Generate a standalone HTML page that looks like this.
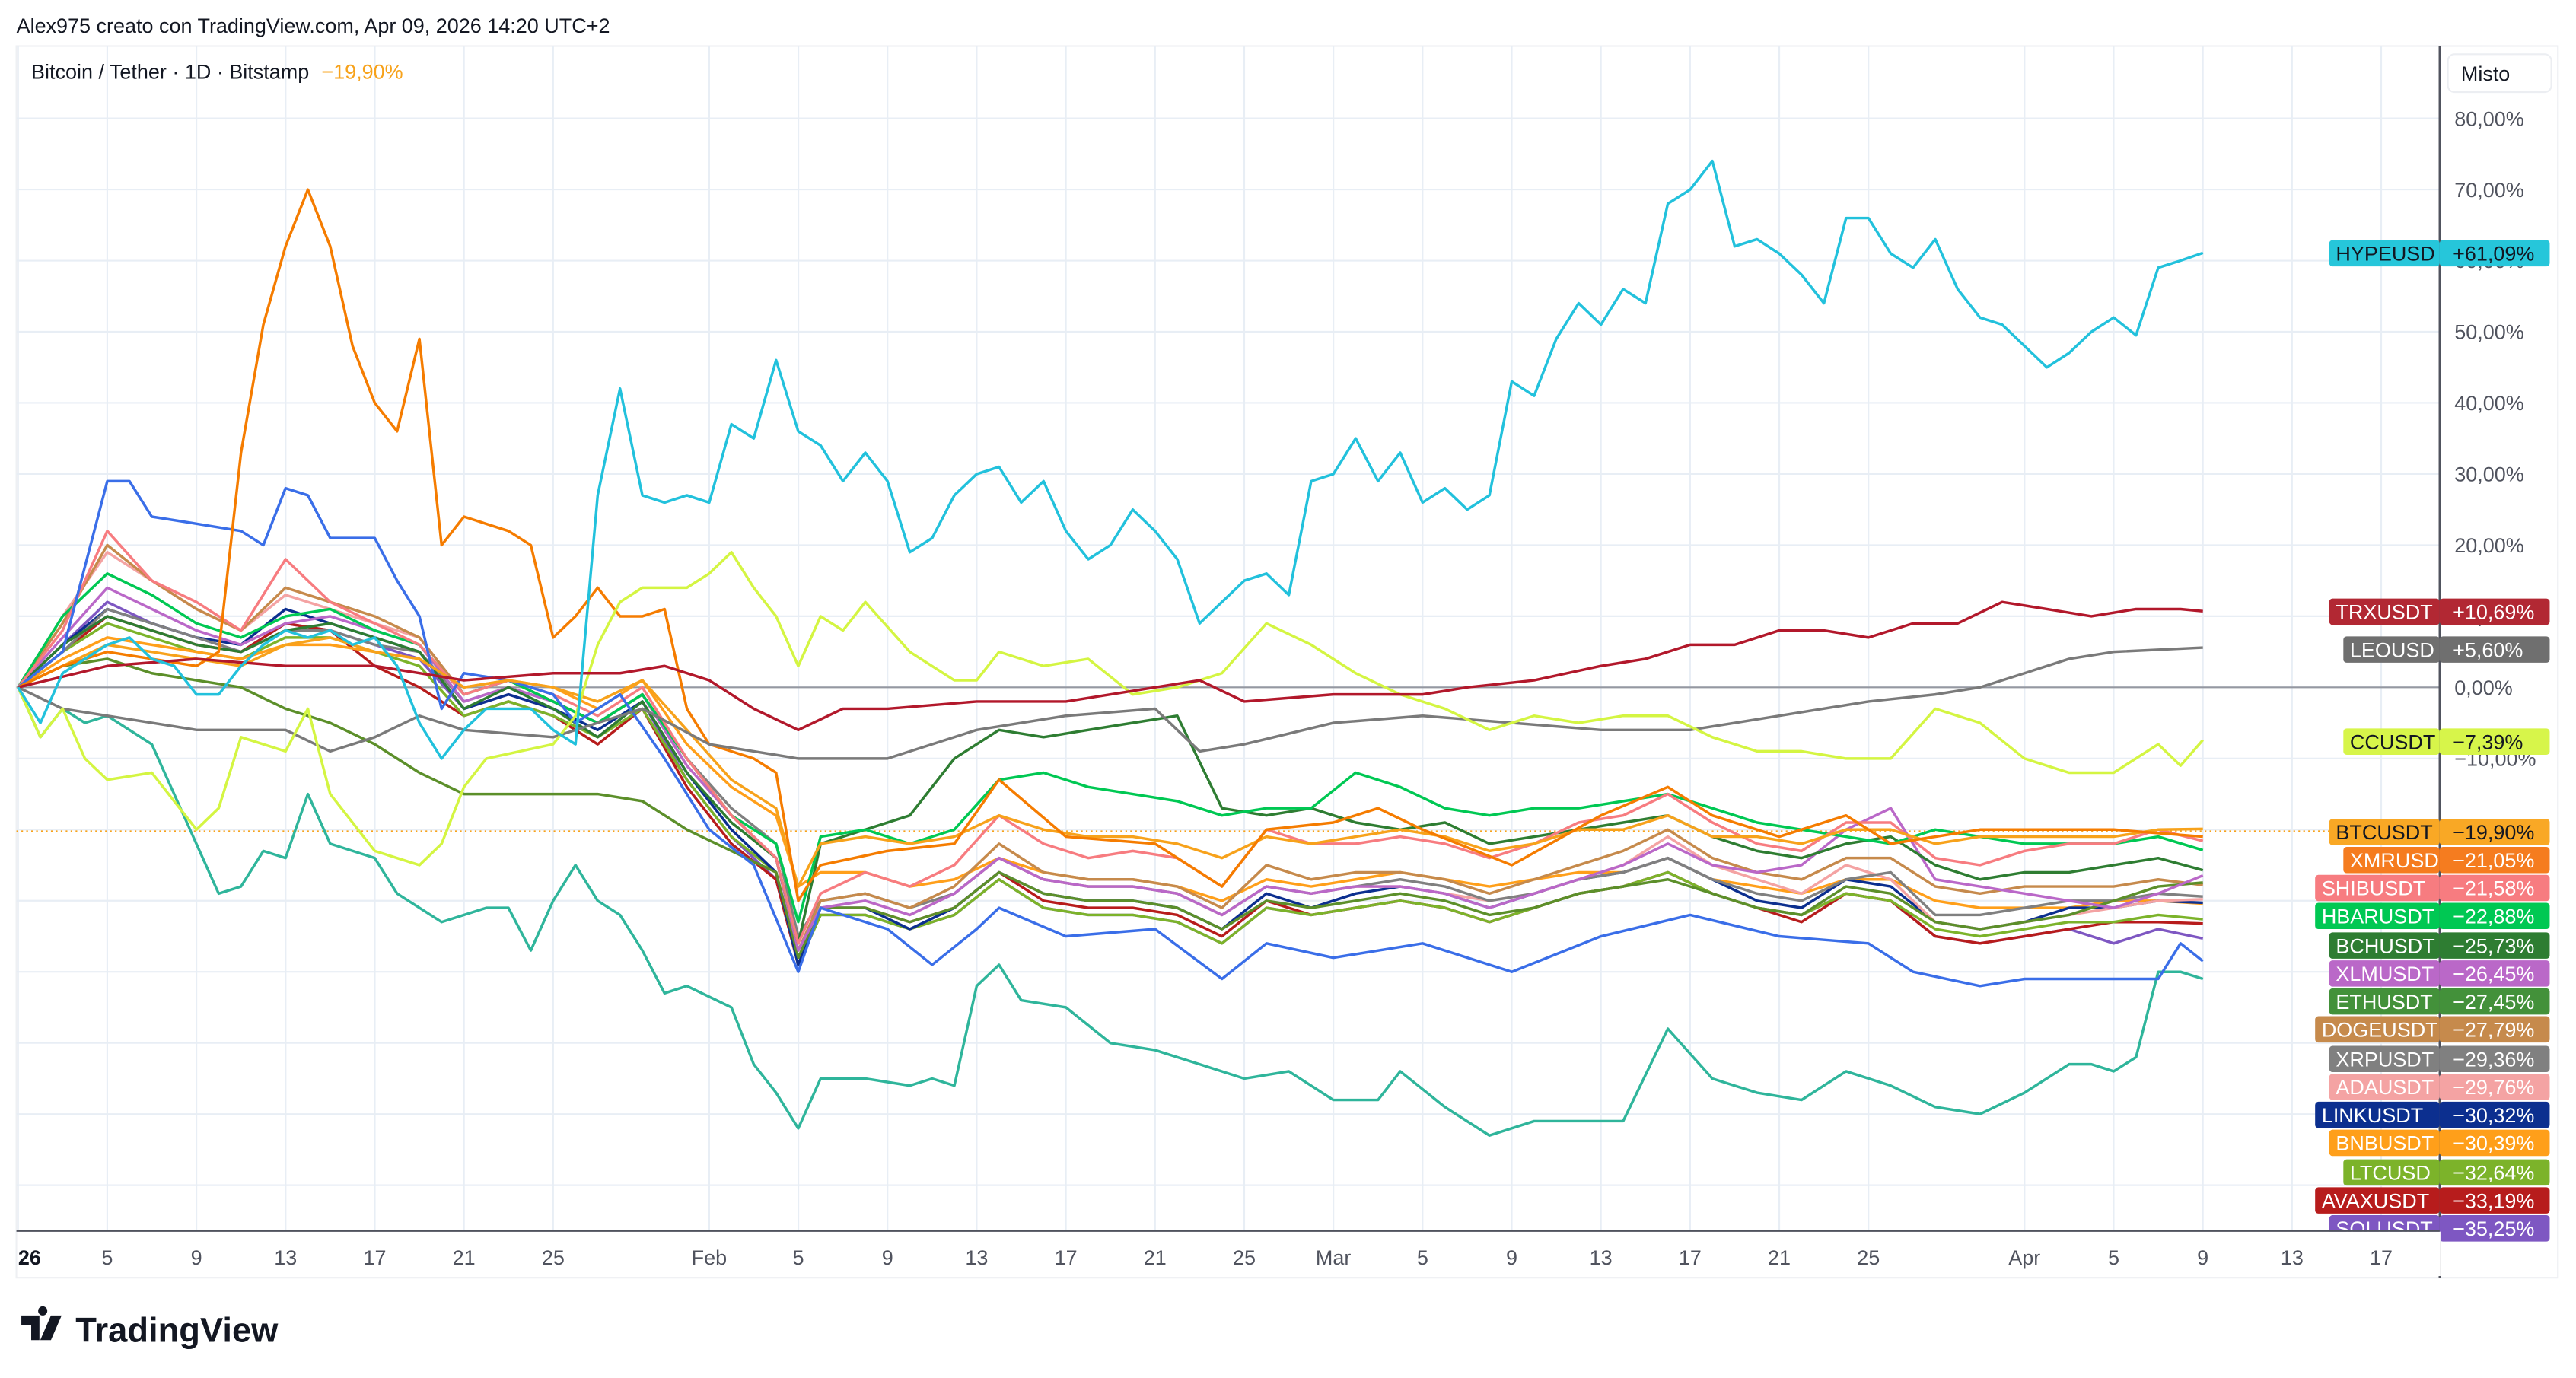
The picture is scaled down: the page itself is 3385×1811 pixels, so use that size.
<!DOCTYPE html>
<html><head><meta charset="utf-8"><style>
html,body{margin:0;padding:0;background:#fff;}
svg{display:block;font-family:"Liberation Sans",sans-serif;}
</style></head><body>
<svg id="chart" width="3385" height="1811" viewBox="0 0 1568 838" preserveAspectRatio="none" xmlns="http://www.w3.org/2000/svg">
<rect x="0" y="0" width="1568" height="838" fill="#fff"/>
<text x="10" y="20" font-size="12.5" fill="#131722">Alex975 creato con TradingView.com, Apr 09, 2026 14:20 UTC+2</text>
<rect x="10" y="28" width="1547" height="749" fill="none" stroke="#eef0f3" stroke-width="1"/>
<g id="grid"></g>
<line x1="10" y1="418" x2="1485" y2="418" stroke="#9598a1" stroke-width="1"/>
<line x1="10" y1="505.5" x2="1485" y2="505.5" stroke="#f7a21b" stroke-width="1" stroke-dasharray="1,2"/>
<g id="series"></g>
<line x1="1485" y1="28" x2="1485" y2="777" stroke="#50535e" stroke-width="1.2"/>
<g id="yaxis"></g>
<g id="labels"></g>
<rect x="10.5" y="749" width="1475" height="27" fill="#fff"/>
<line x1="10" y1="748.5" x2="1485" y2="748.5" stroke="#50535e" stroke-width="1.2"/>
<g id="xaxis"></g>
<rect x="1490" y="33" width="63" height="23" rx="4" fill="#fff" stroke="#eceef2"/>
<text x="1498" y="49" font-size="12.5" fill="#131722">Misto</text>
<text x="19" y="48" font-size="12.5" fill="#131722">Bitcoin / Tether · 1D · Bitstamp <tspan fill="#f7a21b" dx="4">−19,90%</tspan></text>
<g>
<path d="M13 800h11v15h-5v-9h-6z M26 800a2.8 2.8 0 1 1 0.01 0z M31 800h6.5l-6.5 15h-6.5z" fill="#131722"/>
<text x="46" y="816" font-size="21" font-weight="bold" fill="#131722">TradingView</text>
</g>
</svg>
<script>
// ---- data ----
const grid = [0,2,4,6,8,10,12,14,16,18,20,22,24,26,28,30,32,34,35,36,38,40,42,44,46,48,50,52,54,56,58,60,62,64,66,68,70,72,74,76,78,80,82,84,86,88,90,92,94,96,98];
const xTickDays = [0,4,8,12,16,20,24,31,35,39,43,47,51,55,59,63,67,71,75,79,83,90,94,98,102,106];
const xTickLabels = ["26","5","9","13","17","21","25","Feb","5","9","13","17","21","25","Mar","5","9","13","17","21","25","Apr","5","9","13","17"];
const yTicks = [80,70,60,50,40,30,20,10,0,-10,-20,-30,-40,-50,-60,-70];
const yTickLabels = ["80,00%","70,00%","60,00%","50,00%","40,00%","30,00%","20,00%","10,00%","0,00%","−10,00%"];

const btcVals  = [0,3,6,5,4,3,6,7,5,4,0,1,0,-2,1,-6,-13,-17,-28,-22,-21,-22,-21,-18,-20,-21,-21,-22,-24,-21,-22,-21,-20,-21,-23,-22,-20,-20,-18,-21,-21,-22,-20,-20,-22,-21,-21,-21,-21,-20,-19.9];
const shibVals = [0,8,22,15,12,8,18,12,9,6,-1,1,-1,-4,0,-10,-18,-24,-36,-29,-26,-28,-25,-18,-22,-24,-23,-24,-28,-20,-22,-22,-21,-22,-24,-22,-19,-18,-15,-19,-22,-23,-19,-19,-24,-25,-23,-22,-22,-20,-21.6];
const hbarVals = [0,10,16,13,9,7,10,11,8,6,-1,1,-2,-5,-1,-10,-18,-22,-33,-21,-20,-22,-20,-13,-12,-14,-15,-16,-18,-17,-17,-12,-14,-17,-18,-17,-17,-16,-15,-17,-19,-20,-21,-22,-20,-21,-22,-22,-22,-21,-22.9];
const bchVals  = [0,6,10,8,6,5,8,9,7,5,-3,0,-3,-7,-2,-12,-19,-24,-36,-22,-20,-18,-10,-6,-7,-6,-5,-4,-17,-18,-17,-19,-20,-19,-22,-21,-20,-19,-18,-21,-23,-24,-22,-21,-25,-27,-26,-26,-25,-24,-25.7];
const xlmVals  = [0,7,14,11,8,6,9,10,8,6,-2,0,-2,-5,-1,-11,-18,-24,-37,-31,-30,-32,-29,-24,-27,-28,-28,-29,-32,-28,-29,-28,-28,-29,-31,-29,-27,-25,-22,-25,-26,-25,-20,-17,-27,-28,-29,-30,-31,-29,-26.45];
const ethVals  = [0,3,4,2,1,0,-3,-5,-8,-12,-15,-15,-15,-15,-16,-20,-23,-26,-38,-31,-31,-33,-31,-26,-29,-30,-30,-31,-34,-30,-31,-30,-29,-30,-32,-31,-29,-28,-27,-29,-31,-32,-28,-29,-33,-34,-33,-32,-30,-28,-27.45];
const dogeVals = [0,9,20,15,11,8,14,12,10,7,-1,1,-2,-5,-1,-10,-18,-24,-37,-30,-29,-31,-28,-22,-26,-27,-27,-28,-31,-25,-27,-26,-26,-27,-29,-27,-25,-23,-20,-24,-26,-27,-24,-24,-28,-29,-28,-28,-28,-27,-27.8];
const xrpVals  = [0,5,11,9,7,5,8,8,6,5,-2,0,-2,-5,-1,-10,-17,-22,-35,-30,-29,-31,-29,-24,-27,-28,-28,-29,-32,-28,-29,-28,-27,-28,-30,-29,-27,-26,-24,-27,-29,-30,-27,-26,-32,-32,-31,-30,-30,-29,-29.4];
const adaVals  = [0,10,19,15,11,8,13,11,9,7,-1,1,-2,-5,-1,-11,-18,-24,-37,-31,-30,-32,-29,-24,-27,-28,-28,-29,-32,-28,-29,-28,-28,-29,-30,-29,-27,-25,-21,-25,-27,-29,-25,-27,-33,-34,-33,-32,-31,-30,-29.8];
const linkVals = [0,6,11,9,7,6,11,9,7,5,-3,-1,-3,-6,-2,-12,-20,-26,-39,-31,-31,-34,-31,-26,-29,-30,-30,-31,-34,-29,-31,-29,-28,-29,-31,-29,-27,-26,-24,-27,-30,-31,-27,-28,-33,-34,-33,-31,-31,-30,-30.3];
const bnbVals  = [0,4,7,6,5,4,6,6,5,4,0,1,0,-3,1,-8,-14,-18,-28,-26,-26,-28,-27,-24,-26,-27,-27,-28,-30,-27,-28,-27,-26,-27,-28,-27,-26,-26,-24,-27,-28,-29,-27,-27,-30,-31,-31,-31,-30,-30,-30.4];
const ltcVals  = [0,5,9,7,5,4,7,7,5,3,-4,-2,-4,-7,-3,-13,-21,-26,-39,-32,-32,-34,-32,-27,-31,-32,-32,-33,-36,-31,-32,-31,-30,-31,-33,-31,-29,-28,-26,-29,-31,-32,-29,-30,-34,-35,-34,-33,-33,-32,-32.6];
const avaxVals = [0,5,10,8,6,5,9,8,3,0,-4,-2,-4,-8,-3,-14,-22,-27,-39,-31,-31,-33,-31,-26,-30,-31,-31,-32,-35,-30,-32,-31,-30,-31,-33,-31,-29,-28,-26,-29,-31,-33,-29,-30,-35,-36,-35,-34,-33,-33,-33.2];
const solVals  = [0,6,12,9,7,5,9,8,6,4,-3,-1,-3,-7,-2,-13,-21,-27,-39,-32,-32,-34,-32,-27,-31,-32,-32,-33,-36,-31,-32,-31,-30,-31,-33,-31,-29,-28,-26,-29,-31,-32,-29,-30,-35,-36,-35,-34,-36,-34,-35.3];

const xmrDays = [0,2,4,6,8,9,10,11,12,13,14,15,16,17,18,19,20,22,23,24,25,26,27,28,29,30,31,33,34,35,36,39,42,44,47,51,54,56,59,61,63,67,71,74,76,79,82,84,88,90,94,98];
const xmrVals = [0,3,5,4,3,5,33,51,62,70,62,48,40,36,49,20,24,22,20,7,10,14,10,10,11,-3,-8,-10,-12,-30,-25,-23,-22,-13,-21,-22,-28,-20,-19,-17,-20,-25,-18,-14,-18,-21,-18,-22,-20,-20,-20,-21];

const trxDays = [0,4,8,12,16,20,24,27,29,31,33,35,37,39,43,47,51,53,55,59,63,65,68,71,73,75,77,79,81,83,85,87,89,91,93,95,97,98];
const trxVals = [0,3,4,3,3,1,2,2,3,1,-3,-6,-3,-3,-2,-2,0,1,-2,-1,-1,0,1,3,4,6,6,8,8,7,9,9,12,11,10,11,11,10.7];

const leoDays = [0,2,4,8,12,14,16,18,20,24,26,28,31,33,35,39,43,47,51,53,55,59,63,67,71,75,79,83,86,88,90,92,94,98];
const leoVals = [0,-3,-4,-6,-6,-9,-7,-4,-6,-7,-5,-3,-8,-9,-10,-10,-6,-4,-3,-9,-8,-5,-4,-5,-6,-6,-4,-2,-1,0,2,4,5,5.6];

const ccDays = [0,1,2,3,4,6,8,9,10,12,13,14,16,18,19,20,21,24,25,26,27,28,30,31,32,33,34,35,36,37,38,40,42,43,44,46,48,50,52,54,56,58,60,62,64,66,68,70,72,74,76,78,80,82,84,86,88,90,92,94,96,97,98];
const ccVals = [0,-7,-3,-10,-13,-12,-20,-17,-7,-9,-3,-15,-23,-25,-22,-14,-10,-8,-4,6,12,14,14,16,19,14,10,3,10,8,12,5,1,1,5,3,4,-1,0,2,9,6,2,-1,-3,-6,-4,-5,-4,-4,-7,-9,-9,-10,-10,-3,-5,-10,-12,-12,-8,-11,-7.4];

const tealDays = [0,1,2,3,4,6,7,9,10,11,12,13,14,16,17,19,21,22,23,24,25,26,27,28,29,30,32,33,34,35,36,38,40,41,42,43,44,45,47,49,51,53,55,57,59,61,62,64,66,68,70,72,74,76,78,80,82,84,86,88,90,92,93,94,95,96,97,98];
const tealVals = [0,-7,-3,-5,-4,-8,-15,-29,-28,-23,-24,-15,-22,-24,-29,-33,-31,-31,-37,-30,-25,-30,-32,-37,-43,-42,-45,-53,-57,-62,-55,-55,-56,-55,-56,-42,-39,-44,-45,-50,-51,-53,-55,-54,-58,-58,-54,-59,-63,-61,-61,-61,-48,-55,-57,-58,-54,-56,-59,-60,-57,-53,-53,-54,-52,-40,-40,-41];

const blueDays = [0,2,4,5,6,8,10,11,12,13,14,16,17,18,19,20,22,24,25,26,27,29,31,33,35,36,39,41,43,44,47,51,54,56,59,63,67,71,75,79,83,85,88,90,92,94,96,97,98];
const blueVals = [0,5,29,29,24,23,22,20,28,27,21,21,15,10,-3,2,1,-1,-5,-3,-1,-10,-20,-25,-40,-31,-34,-39,-34,-31,-35,-34,-41,-36,-38,-36,-40,-35,-32,-35,-36,-40,-42,-41,-41,-41,-41,-36,-38.5];

const hypeVals = [0,-5,2,4,6,7,4,3,-1,-1,3,6,8,7,8,6,7,3,-5,-10,-6,-3,-3,-3,-6,-8,27,42,27,26,27,26,37,35,46,36,34,29,33,29,19,21,27,30,31,26,29,22,18,20,25,22,18,9,12,15,16,13,29,30,35,29,33,26,28,25,27,43,41,49,54,51,56,54,68,70,74,62,63,61,58,54,66,66,61,59,63,56,52,51,48,45,47,50,52,49.5,59,60,61.09];

const labelNames = ["HYPEUSD","TRXUSDT","LEOUSD","CCUSDT","BTCUSDT","XMRUSD","SHIBUSDT","HBARUSDT","BCHUSDT","XLMUSDT","ETHUSDT","DOGEUSDT","XRPUSDT","ADAUSDT","LINKUSDT","BNBUSDT","LTCUSD","AVAXUSDT","SOLUSDT"];
const labelValues = ["+61,09%","+10,69%","+5,60%","−7,39%","−19,90%","−21,05%","−21,58%","−22,88%","−25,73%","−26,45%","−27,45%","−27,79%","−29,36%","−29,76%","−30,32%","−30,39%","−32,64%","−33,19%","−35,25%"];
const labelColors = ["#26c6da","#b22833","#6f6f6f","#d7f54a","#f9a825","#f57c1f","#f77c80","#00c853","#2e7d32","#ba68c8","#43913a","#c68a4c","#808080","#f4a3a3","#0c2f8f","#ff9f1a","#7cb32a","#b71c1c","#7e57c2"];
const labelDark = [true,false,false,true,true,false,false,false,false,false,false,false,false,false,false,false,false,false,false];
const labelY = [154,372,395,451,506,523,540,557,575,592,609,626,644,661,678,695,713,730,747];

// ---- scales ----
const NS = "http://www.w3.org/2000/svg";
function xS(d){ return 11 + d*13.57; }
function yS(v){ return 418 - v*4.325; }
function mk(tag, attrs, parent){
  const e = document.createElementNS(NS, tag);
  for (const k in attrs) e.setAttribute(k, attrs[k]);
  parent.appendChild(e); return e;
}
const gGrid = document.getElementById('grid');
const gSeries = document.getElementById('series');
const gY = document.getElementById('yaxis');
const gX = document.getElementById('xaxis');
const gL = document.getElementById('labels');

yTicks.forEach(function(t){
  const ln = mk('line',{x1:10,x2:1485,y1:yS(t),y2:yS(t),stroke:'#e8eef5','stroke-width':1},gGrid);
  
  
});
xTickDays.forEach(function(d){
  const ln = mk('line',{x1:xS(d),x2:xS(d),y1:28,y2:748,stroke:'#e8eef5','stroke-width':1},gGrid);
  
  
});
yTickLabels.forEach(function(lbl,i){
  const t = mk('text',{x:1494,y:yS(yTicks[i])+4.5,'font-size':12.5,fill:'#50535e'},gY);
  t.textContent = lbl;
  
  
});
xTickLabels.forEach(function(lbl,i){
  const bold = i===0;
  const t = mk('text',{x:xS(xTickDays[i])+(bold?7:0),y:769,'font-size':12.5,fill:bold?'#131722':'#50535e','text-anchor':'middle','font-weight':bold?'bold':'normal'},gX);
  t.textContent = lbl;
  
  
});

function drawLine(days, vals, color, name){
  const n = Math.min(days.length, vals.length);
  let d = '';
  for (let i=0;i<n;i++) d += (i?'L':'M') + xS(days[i]).toFixed(1) + ' ' + yS(vals[i]).toFixed(1);
  const p = mk('path',{d:d,fill:'none',stroke:color,'stroke-width':1.6,'stroke-linejoin':'round'},gSeries);
  
  
}
const hypeDays = hypeVals.map(function(_,i){return i;});

drawLine(tealDays, tealVals, '#2fb59b', 'line-teal-series');
drawLine(grid, solVals, '#7e57c2', 'line-solusdt');
drawLine(grid, avaxVals, '#b71c1c', 'line-avaxusdt');
drawLine(grid, ltcVals, '#7cb32a', 'line-ltcusd');
drawLine(grid, bnbVals, '#ff9f1a', 'line-bnbusdt');
drawLine(grid, linkVals, '#0c2f8f', 'line-linkusdt');
drawLine(grid, adaVals, '#f4a3a3', 'line-adausdt');
drawLine(grid, xrpVals, '#808080', 'line-xrpusdt');
drawLine(grid, dogeVals, '#c68a4c', 'line-dogeusdt');
drawLine(grid, ethVals, '#5c8f2a', 'line-ethusdt');
drawLine(grid, xlmVals, '#ba68c8', 'line-xlmusdt');
drawLine(grid, bchVals, '#2e7d32', 'line-bchusdt');
drawLine(grid, hbarVals, '#00c853', 'line-hbarusdt');
drawLine(grid, shibVals, '#f77c80', 'line-shibusdt');
drawLine(blueDays, blueVals, '#3a6ee8', 'line-blue-series');
drawLine(grid, btcVals, '#f7a21b', 'line-btcusdt');
drawLine(xmrDays, xmrVals, '#f57c00', 'line-xmrusd');
drawLine(leoDays, leoVals, '#7a7a7a', 'line-leousd');
drawLine(ccDays, ccVals, '#d4f542', 'line-ccusdt');
drawLine(trxDays, trxVals, '#b2182b', 'line-trxusdt');
drawLine(hypeDays, hypeVals, '#22c1dc', 'line-hypeusd');

labelNames.forEach(function(nm,i){
  const w = nm.length*8.6+7;
  const y = labelY[i];
  const r1 = mk('rect',{x:1485-w,y:y-8,width:w,height:16,rx:2,fill:labelColors[i]},gL);
  
  
  const r2 = mk('rect',{x:1485,y:y-8,width:67,height:16,rx:2,fill:labelColors[i]},gL);
  
  
  const col = labelDark[i] ? '#131722' : '#ffffff';
  const t1 = mk('text',{x:1485-w+4,y:y+4.5,'font-size':12.5,fill:col},gL);
  t1.textContent = nm;
  
  
  const t2 = mk('text',{x:1493,y:y+4.5,'font-size':12.5,fill:col},gL);
  t2.textContent = labelValues[i];
  
  
});
</script>
</body></html>
